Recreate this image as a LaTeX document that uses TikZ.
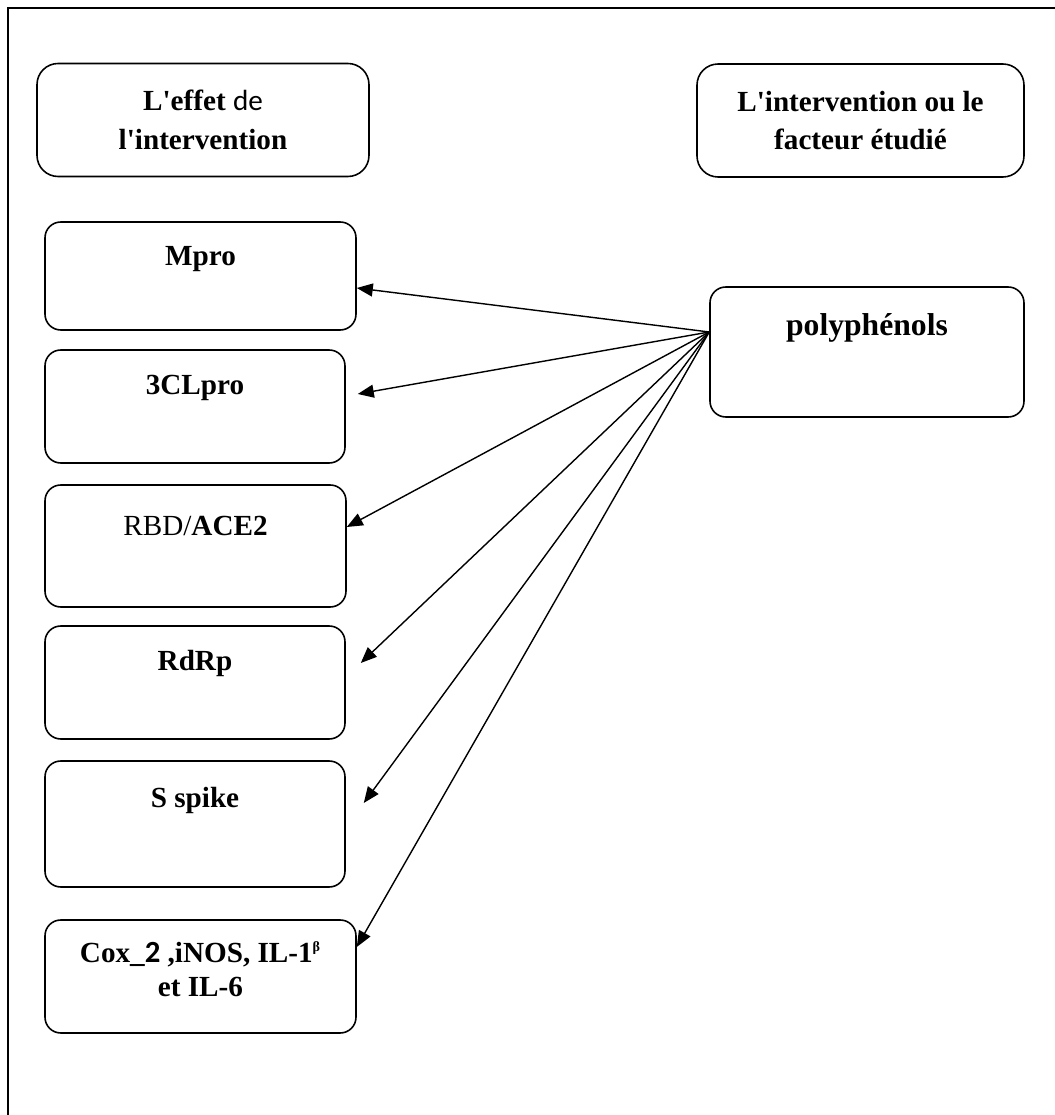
\documentclass[tikz,border=0pt]{standalone}
\usepackage{fontspec}
\setmainfont{Liberation Serif}[Ligatures=TeXOff]
\newfontfamily\carlito{Carlito}
\usetikzlibrary{arrows.meta, positioning}

\begin{document}
\begin{tikzpicture}[
  >={Triangle[length=3.2mm, width=2.6mm]},
  box/.style={draw, line width=0.9pt, rounded corners=9pt},
  hdr/.style={draw, line width=0.9pt, rounded corners=12pt,
    minimum height=2.26cm, align=center,
    font=\fontsize{16.6}{22}\selectfont\bfseries},
  txt/.style={font=\fontsize{16.6}{19.5}\selectfont\bfseries,
    align=center, inner sep=0pt},
  arr/.style={->, line width=0.8pt},
]

% Page and frame (only top and left sides show)
\useasboundingbox (0,0) rectangle (21.1,22.3);
\draw[line width=1pt] (0.16,0) -- (0.16,22.14) -- (21.1,22.14);

% === Headers ===
\node[hdr, minimum width=6.64cm] (effet) at (4.06,19.90)
  {L'effet {\carlito\mdseries de}\\l'intervention};
\node[hdr, minimum width=6.54cm] (interv) at (17.21,19.89)
  {L'intervention ou le\\facteur étudié};

% === Left column: effects ===
\node[box, minimum width=6.22cm, minimum height=2.16cm] (mpro) at (4.01,16.78) {};
\node[txt] (mprot) at ([yshift=-0.76cm]mpro.north) {Mpro};

\node[box, minimum width=6.0cm, minimum height=2.26cm] (clpro) at (3.90,14.17) {};
\node[txt] (clprot) at ([yshift=-0.78cm]clpro.north) {3CLpro};

\node[box, minimum width=6.02cm, minimum height=2.44cm] (rbd) at (3.91,11.38) {};
\node[txt] (rbdt) at ([yshift=-0.84cm]rbd.north) {{\mdseries RBD/}ACE2};

\node[box, minimum width=6.0cm, minimum height=2.26cm] (rdrp) at (3.90,8.65) {};
\node[txt] (rdrpt) at ([yshift=-0.76cm]rdrp.north) {RdRp};

\node[box, minimum width=6.0cm, minimum height=2.52cm] (spike) at (3.90,5.82) {};
\node[txt] (spiket) at ([yshift=-0.8cm]spike.north) {S spike};

\node[box, minimum width=6.22cm, minimum height=2.26cm] (cox) at (4.01,2.77) {};
\node[txt] (coxt) at ([yshift=0.15cm]cox.center)
  {Cox\_{\carlito\fontsize{17.5}{19.5}\selectfont 2} ,iNOS, IL-1\textsuperscript{\fontsize{8}{8}\selectfont β}\\et IL-6};

% === Right: factor studied ===
\node[box, minimum width=6.28cm, minimum height=2.60cm] (poly) at (17.34,15.26) {};
\node[txt, font=\fontsize{18}{20}\selectfont\bfseries] (polyt)
  at ([yshift=-0.84cm]poly.north) {polyphénols};

% === Arrows ===
\coordinate (src) at ([yshift=0.4cm]poly.west);
\draw[arr] (src) -- ([yshift=-0.24cm]mpro.east);
\draw[arr] (src) -- ([xshift=0.24cm, yshift=0.25cm]clpro.east);
\draw[arr] (src) -- ([yshift=0.38cm]rbd.east);
\draw[arr] (src) -- ([xshift=0.3cm, yshift=0.39cm]rdrp.east);
\draw[arr] (src) -- ([xshift=0.36cm, yshift=0.42cm]spike.east);
\draw[arr] (src) -- ([yshift=0.59cm]cox.east);

\end{tikzpicture}
\end{document}
